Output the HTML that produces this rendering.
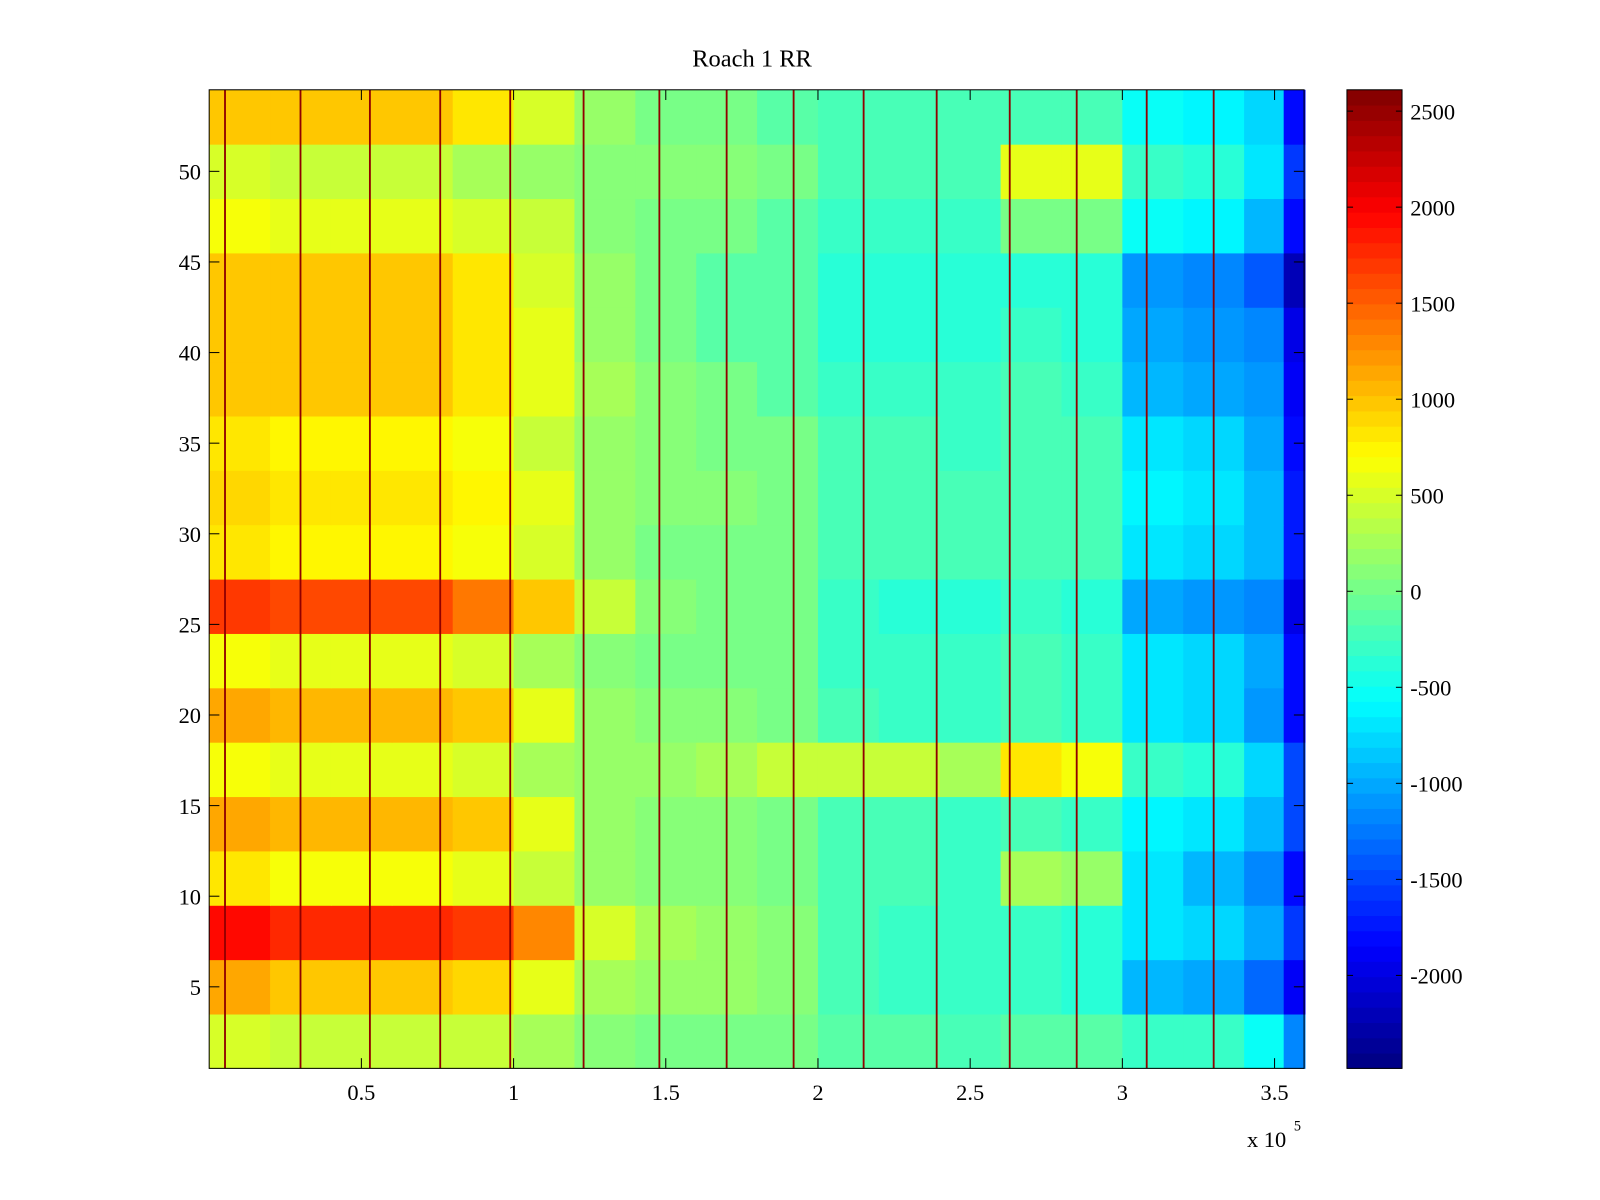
<!DOCTYPE html>
<html><head><meta charset="utf-8"><title>Roach 1 RR</title>
<style>html,body{margin:0;padding:0;background:#fff}svg{display:block;font-family:"Liberation Serif",serif}</style></head>
<body>
<svg id="chart" width="1600" height="1200" viewBox="0 0 1568 1176" xmlns="http://www.w3.org/2000/svg">
<rect width="1568" height="1176" fill="#fff"/>
<text x="737" y="65" font-size="24" text-anchor="middle">Roach 1 RR</text>
<g id="cells"></g><g id="lines"></g><g id="axes"></g><g id="cbar"></g>
</svg>
<script>
// x bin edges (data units)
const xEdges = [0,20000,40000,60000,80000,100000,120000,140000,160000,180000,200000,220000,240000,260000,280000,300000,320000,340000,353000,360000];
// row bands (y ranges, bottom first)
const yBands = [[0.5,3.5],[3.5,6.5],[6.5,9.5],[9.5,12.5],[12.5,15.5],[15.5,18.5],[18.5,21.5],[21.5,24.5],[24.5,27.5],[27.5,30.5],[30.5,33.5],[33.5,36.5],[36.5,39.5],[39.5,42.5],[42.5,45.5],[45.5,48.5],[48.5,51.5],[51.5,54.5]];
const band1 = [500,400,400,400,400,300,100,0,0,0,-100,-100,-200,-100,-100,-300,-300,-500,-1200];
const band2 = [1100,1000,1000,1000,900,600,300,200,200,100,-200,-300,-300,-300,-400,-900,-1000,-1300,-1900];
const band3 = [1900,1800,1800,1800,1700,1300,500,300,200,100,-200,-300,-300,-300,-400,-700,-800,-1000,-1600];
const band4 = [800,700,700,700,600,400,200,100,100,0,-200,-200,-300,300,200,-700,-900,-1200,-1800];
const band5 = [1150,1050,1050,1050,950,600,200,100,100,0,-200,-200,-300,-200,-300,-600,-700,-900,-1500];
const band6 = [700,600,600,600,500,300,200,200,300,400,400,400,300,800,700,-300,-400,-800,-1500];
const band7 = [1150,1050,1050,1050,950,600,200,100,100,0,-200,-300,-300,-200,-300,-700,-800,-1100,-1800];
const band8 = [700,600,600,600,500,300,100,0,0,0,-300,-300,-300,-200,-300,-700,-800,-1000,-1800];
const band9 = [1700,1600,1600,1600,1400,1000,400,100,0,0,-300,-400,-400,-300,-400,-1000,-1100,-1200,-2000];
const band10 = [850,750,750,750,650,500,200,0,0,0,-250,-250,-250,-200,-250,-700,-800,-900,-1700];
const band11 = [900,850,850,850,750,550,200,100,100,0,-250,-250,-250,-200,-250,-600,-700,-900,-1700];
const band12 = [850,750,750,750,650,450,200,100,0,0,-250,-250,-300,-250,-250,-700,-800,-1000,-1800];
const band13 = [1000,950,950,950,850,600,300,100,0,-100,-300,-300,-300,-250,-300,-900,-1000,-1100,-1900];
const band14 = [1000,950,950,950,850,600,200,0,-100,-150,-350,-350,-350,-300,-350,-1000,-1100,-1200,-2000];
const band15 = [1000,950,950,950,850,500,200,0,-100,-150,-350,-350,-350,-350,-350,-1100,-1200,-1400,-2200];
const band16 = [700,600,600,600,500,400,100,0,0,-100,-300,-300,-300,0,0,-500,-600,-900,-1800];
const band17 = [500,400,400,400,300,200,100,100,100,0,-200,-200,-200,600,600,-300,-400,-700,-1600];
const band18 = [1000,950,950,950,800,500,200,0,0,-100,-250,-250,-250,-200,-200,-500,-600,-800,-1800];
const bandValues = [band1,band2,band3,band4,band5,band6,band7,band8,band9,band10,band11,band12,band13,band14,band15,band16,band17,band18];
// dark vertical stripes (x positions, data units)
const stripeX = [5200,30000,52800,75900,98900,123000,147900,170000,192000,215000,239000,263000,285000,308000,330000];
const xTicks = [0.5,1,1.5,2,2.5,3,3.5];
const xTickLabels = ["0.5","1","1.5","2","2.5","3","3.5"];
const yTicks = [5,10,15,20,25,30,35,40,45,50];
const cTicks = [2500,2000,1500,1000,500,0,-500,-1000,-1500,-2000];

const NS="http://www.w3.org/2000/svg";
const L=205,R=1278,T=88,B=1047;
const xMin=0,xMax=359700,yMin=0.5,yMax=54.5,cMin=-2484,cMax=2611;
const sx=v=>L+(v-xMin)/(xMax-xMin)*(R-L);
const sy=v=>B-(v-yMin)/(yMax-yMin)*(B-T);
const CB={l:1320,r:1374};
const sc=v=>B-(v-cMin)/(cMax-cMin)*(B-T);
function jet(t){const f=x=>Math.max(0,Math.min(1,x));
 const r=f(1.5-Math.abs(4*t-3)),g=f(1.5-Math.abs(4*t-2)),b=f(1.5-Math.abs(4*t-1));
 return `rgb(${Math.round(r*255)},${Math.round(g*255)},${Math.round(b*255)})`;}
function cmap(v){let t=(v-cMin)/(cMax-cMin);t=Math.max(0,Math.min(0.9999,t));return jet((Math.floor(t*64)+0.5)/64);}
function mk(tag,attrs,parent){const e=document.createElementNS(NS,tag);for(const k in attrs)e.setAttribute(k,attrs[k]);parent.appendChild(e);return e;}

const cells=document.getElementById('cells');
bandValues.forEach((row,bi)=>{row.forEach((v,ci)=>{
 const x0=sx(xEdges[ci]),x1=sx(xEdges[ci+1]),y0=sy(yBands[bi][1]),y1=sy(yBands[bi][0]);
 const r=mk('rect',{x:x0,y:y0,width:x1-x0+0.5,height:y1-y0+0.5,fill:cmap(v)},cells);
 
 
});});
const lines=document.getElementById('lines');
stripeX.forEach(xv=>{const l=mk('line',{x1:sx(xv),x2:sx(xv),y1:T,y2:B,stroke:'#900000','stroke-width':1.8},lines);
 
 });

const ax=document.getElementById('axes');
const frame=mk('rect',{x:L,y:T,width:R-L,height:B-T,fill:'none',stroke:'#000','stroke-width':1},ax);


xTicks.forEach((t,i)=>{const x=sx(t*1e5);
 mk('line',{x1:x,x2:x,y1:B,y2:B-10,stroke:'#000'},ax);mk('line',{x1:x,x2:x,y1:T,y2:T+10,stroke:'#000'},ax);
 const tx=mk('text',{x:x,y:B+31,'font-size':22,'text-anchor':'middle'},ax);tx.textContent=xTickLabels[i];
 
 });
yTicks.forEach(t=>{const y=sy(t);
 mk('line',{x1:L,x2:L+10,y1:y,y2:y,stroke:'#000'},ax);mk('line',{x1:R,x2:R-10,y1:y,y2:y,stroke:'#000'},ax);
 const tx=mk('text',{x:L-8,y:y+8,'font-size':22,'text-anchor':'end'},ax);tx.textContent=t;
 
 });
const ex=mk('text',{x:1222,y:1124,'font-size':22},ax);ex.textContent='x 10';


const ex2=mk('text',{x:1268,y:1108,'font-size':14},ax);ex2.textContent='5';



const cb=document.getElementById('cbar');
for(let i=0;i<64;i++){const v0=cMin+i*(cMax-cMin)/64,v1=cMin+(i+1)*(cMax-cMin)/64;
 const r=mk('rect',{x:CB.l,y:sc(v1),width:CB.r-CB.l,height:sc(v0)-sc(v1)+0.5,fill:jet((i+0.5)/64)},cb);
 
 }
const cf=mk('rect',{x:CB.l,y:T,width:CB.r-CB.l,height:B-T,fill:'none',stroke:'#000'},cb);


cTicks.forEach(t=>{const y=sc(t);
 mk('line',{x1:CB.l,x2:CB.l+6,y1:y,y2:y,stroke:'#000'},cb);mk('line',{x1:CB.r,x2:CB.r-6,y1:y,y2:y,stroke:'#000'},cb);
 const tx=mk('text',{x:CB.r+8,y:y+8,'font-size':22},cb);tx.textContent=t;
 
 });
</script>
</body></html>
